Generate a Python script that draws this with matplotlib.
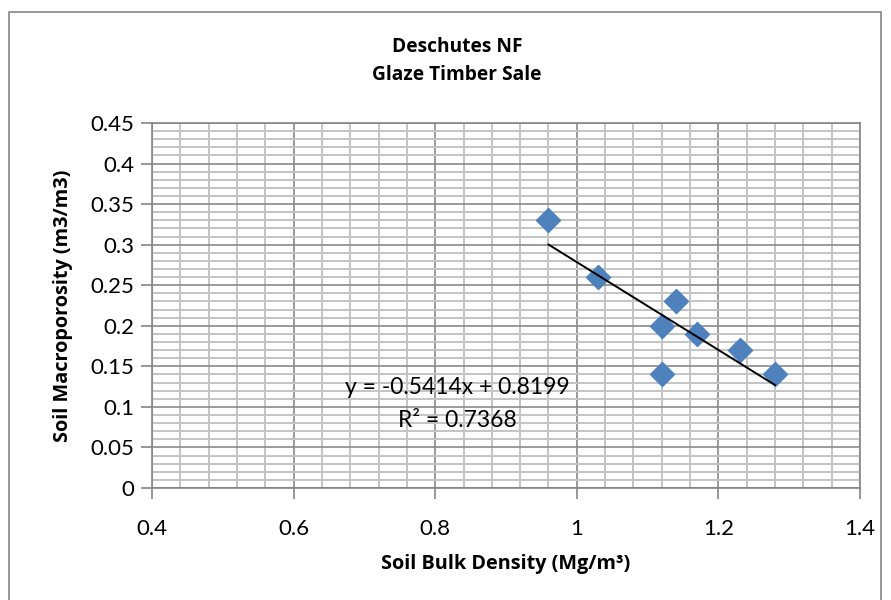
import matplotlib
matplotlib.use("Agg")
import matplotlib.pyplot as plt
from matplotlib.patches import Rectangle
from matplotlib.ticker import MultipleLocator
import numpy as np

plt.rcParams['font.family'] = ['Lato', 'DejaVu Sans']

bulk_density = [0.96, 1.03, 1.12, 1.12, 1.14, 1.17, 1.23, 1.28]
macroporosity = [0.33, 0.26, 0.20, 0.14, 0.23, 0.19, 0.17, 0.14]
slope = -0.5414
intercept = 0.8199
r_squared = 0.7368
x_ticks = [0.4, 0.6, 0.8, 1.0, 1.2, 1.4]
x_tick_labels = ["0.4", "0.6", "0.8", "1", "1.2", "1.4"]
y_ticks = [0, 0.05, 0.1, 0.15, 0.2, 0.25, 0.3, 0.35, 0.4, 0.45]
y_tick_labels = ["0", "0.05", "0.1", "0.15", "0.2", "0.25", "0.3", "0.35", "0.4", "0.45"]

title_font = dict(family=['Open Sans', 'DejaVu Sans'], fontweight="bold", fontsize=13.8)
label_font = dict(family=['Open Sans', 'DejaVu Sans'], fontweight="bold", fontsize=14.3)

fig = plt.figure(figsize=(8.91, 6.0), dpi=100)
ax = fig.add_axes([152/891, 1-488/600, (860-152)/891, (488-123)/600])

# chart border
fig.patches.append(Rectangle((9/891, -0.2), (881-9)/891, 1.2 - 12/600,
                             transform=fig.transFigure, fill=False,
                             edgecolor="#868686", linewidth=1.2))

ax.set_xlim(0.4, 1.4)
ax.set_ylim(0, 0.45)
ax.set_xticks(x_ticks)
ax.set_xticklabels(x_tick_labels)
ax.set_yticks(y_ticks)
ax.set_yticklabels(y_tick_labels)
ax.xaxis.set_minor_locator(MultipleLocator(0.04))
ax.yaxis.set_minor_locator(MultipleLocator(0.01))

ax.grid(which="minor", color="#C4C4C4", linewidth=1.4, zorder=0)
ax.grid(which="major", color="#8A8A8A", linewidth=1.2, zorder=0)
ax.set_axisbelow(True)
ax.tick_params(which="minor", length=0)
ax.tick_params(which="major", length=8, width=1.2, color="#868686",
               labelsize=16, pad=5, direction="out")
ax.tick_params(axis="x", pad=14)
for s in ax.spines.values():
    s.set_color("#868686")
    s.set_linewidth(1.2)

ax.scatter(bulk_density, macroporosity, marker="D", s=150, color="#4F81BD",
           edgecolor="#4F81BD", zorder=3)

xs = np.array([min(bulk_density), max(bulk_density)])
ax.plot(xs, slope * xs + intercept, color="black", linewidth=1.4, zorder=4)

ax.text(0.831, 0.1233, f"y = {slope}x + {intercept}", ha="center", va="center",
        fontsize=16.5)
ax.text(0.831, 0.0838, f"R² = {r_squared}", ha="center", va="center",
        fontsize=16.5)

fig.text(457/891, 1-47/600, "Deschutes NF", ha="center", va="center", **title_font)
fig.text(457/891, 1-75/600, "Glaze Timber Sale", ha="center", va="center", **title_font)
ax.set_xlabel("Soil Bulk Density (Mg/m³)", labelpad=11, **label_font)
ax.set_ylabel("Soil Macroporosity (m3/m3)", labelpad=12, **label_font)

fig.savefig("out.png", dpi=100)
